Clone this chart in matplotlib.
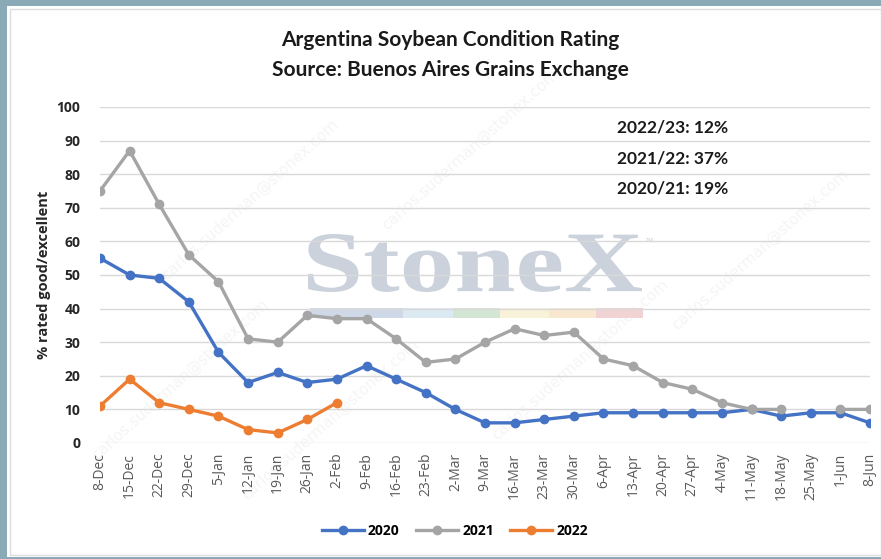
import matplotlib
matplotlib.use("Agg")
import matplotlib.pyplot as plt
import numpy as np
from matplotlib.patches import Rectangle, PathPatch
from matplotlib.textpath import TextPath
from matplotlib.font_manager import FontProperties
from matplotlib.transforms import Affine2D, IdentityTransform
from matplotlib.lines import Line2D

# weekly dates on the category axis
dates = ['8-Dec', '15-Dec', '22-Dec', '29-Dec', '5-Jan', '12-Jan', '19-Jan', '26-Jan',
         '2-Feb', '9-Feb', '16-Feb', '23-Feb', '2-Mar', '9-Mar', '16-Mar', '23-Mar',
         '30-Mar', '6-Apr', '13-Apr', '20-Apr', '27-Apr', '4-May', '11-May', '18-May',
         '25-May', '1-Jun', '8-Jun']

# % rated good/excellent per season
s2020 = [55, 50, 49, 42, 27, 18, 21, 18, 19, 23, 19, 15, 10, 6, 6, 7, 8, 9, 9, 9,
         9, 9, 10, 8, 9, 9, 6]
s2021 = [75, 87, 71, 56, 48, 31, 30, 38, 37, 37, 31, 24, 25, 30, 34, 32, 33, 25, 23,
         18, 16, 12, 10, 10, np.nan, 10, 10]
s2022 = [11, 19, 12, 10, 8, 4, 3, 7, 12]

series_names = ['2020', '2021', '2022']
colors = ['#4472C4', '#A5A5A5', '#ED7D31']

note_seasons = ['2022/23', '2021/22', '2020/21']
note_pct = [12, 37, 19]

W, H = 881, 559
fig = plt.figure(figsize=(W / 100, H / 100), dpi=100, facecolor='#8BAAB8')

# white card with thin frame
fig.patches.append(Rectangle((7 / W, 2 / H), 1 - 7 / W, 1 - 8 / H, transform=fig.transFigure,
                             facecolor='white', edgecolor='none', zorder=-3))
fig.patches.append(Rectangle((10 / W, 4 / H), 1 - 10 / W, 1 - 13 / H, transform=fig.transFigure,
                             facecolor='none', edgecolor='#dcdcdc', lw=1, zorder=-2))

# faint e-mail watermarks
for (px, py) in [(250, 200), (470, 150), (330, 420), (580, 360), (760, 250), (180, 380)]:
    fig.text(px / W, 1 - py / H, 'carlos.suderman@stonex.com', rotation=42, fontsize=11,
             color='#f5f5f5', ha='center', va='center', zorder=-2)

# StoneX logo watermark, stretched into its box
tp = TextPath((0, 0), 'StoneX', size=100,
              prop=FontProperties(family='Liberation Serif', weight='bold'))
bb = tp.get_extents()
x0, x1, ytop, ybot = 308, 642, 234, 292
sx = (x1 - x0) / bb.width
sy = (ybot - ytop) / bb.height
tr = Affine2D().translate(-bb.x0, -bb.y0).scale(sx, sy).translate(x0, H - ybot)
fig.patches.append(PathPatch(tr.transform_path(tp), transform=IdentityTransform(),
                             facecolor='#cbd2dc', edgecolor='none', zorder=-1))
fig.text(645 / W, 1 - 242 / H, 'TM', fontsize=4, color='#c9d1db', zorder=-1)
bar_cols = ['#cfd8e6', '#dbe9f3', '#d3e6d3', '#f8f3d8', '#f9e8d0', '#f2d3d3']
bar_x = [310, 403, 453, 500, 549, 596, 643]
for i, c in enumerate(bar_cols):
    fig.patches.append(Rectangle((bar_x[i], H - 318), bar_x[i + 1] - bar_x[i], 10,
                                 transform=IdentityTransform(), facecolor=c,
                                 edgecolor='none', zorder=-1))

ax = fig.add_axes([100 / W, 1 - 443 / H, 770 / W, 336 / H])
ax.set_facecolor('none')

x = np.arange(len(dates))
for vals, name, c in zip([s2020, s2021, s2022], series_names, colors):
    ax.plot(x[:len(vals)], vals, color=c, lw=2.4, marker='o', markersize=6, label=name,
            zorder=3)

ax.set_xlim(0, len(dates) - 1)
ax.set_ylim(0, 100)
ax.set_yticks(range(0, 101, 10))
ax.set_xticks(x)
ax.set_xticklabels(dates, rotation=90, fontsize=10, color='#595959', family='Open Sans')
ax.tick_params(axis='x', length=0, pad=7)
ax.tick_params(axis='y', length=0, pad=14, labelsize=10)
for lab in ax.get_yticklabels():
    lab.set_fontweight('bold')
    lab.set_family('Open Sans')
    lab.set_color('#262626')
ax.grid(axis='y', color='#d9d9d9', lw=1, zorder=0)
ax.set_axisbelow(True)
for s in ax.spines.values():
    s.set_visible(False)
ax.set_ylabel('% rated good/excellent', fontsize=10.5, fontweight='bold', family='Open Sans',
              color='#262626', labelpad=4)

fig.text(450 / W, 1 - 40 / H, 'Argentina Soybean Condition Rating', fontsize=15,
         fontweight='bold', family='Lato', ha='center', va='center', color='#1a1a1a')
fig.text(450 / W, 1 - 70 / H, 'Source: Buenos Aires Grains Exchange', fontsize=15,
         fontweight='bold', family='Lato', ha='center', va='center', color='#1a1a1a')

for i, (sea, p) in enumerate(zip(note_seasons, note_pct)):
    fig.text(617 / W, 1 - (128 + 30 * i) / H, f'{sea}: {p}%', fontsize=12.5,
             fontweight='bold', family='Lato', ha='left', va='center', color='#1a1a1a')

handles = [Line2D([], [], color=c, lw=2.4, marker='o', markersize=6) for c in colors]
leg = fig.legend(handles, series_names, loc='center', bbox_to_anchor=(455 / W, 1 - 531 / H),
                 ncol=3, frameon=False, handlelength=3, columnspacing=1.2, handletextpad=0.3,
                 prop={'family': 'Open Sans', 'weight': 'bold', 'size': 10})

fig.savefig('out.png', dpi=100, facecolor=fig.get_facecolor())
